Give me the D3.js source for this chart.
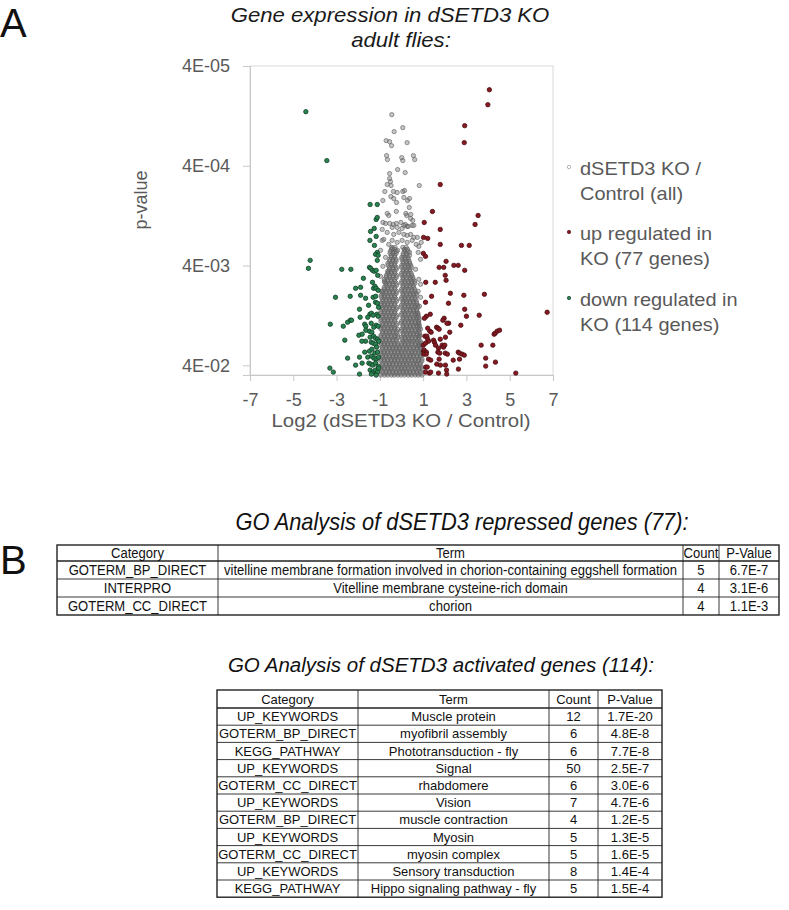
<!DOCTYPE html>
<html><head><meta charset="utf-8">
<script src="https://cdn.jsdelivr.net/npm/d3@7"></script>
<style>
html,body{margin:0;padding:0;background:#fff;}
svg{display:block;font-family:"Liberation Sans",Arial,sans-serif;}
</style></head><body>
<svg id="c" width="789" height="910"></svg>
<script>
// ---------------- DATA ----------------
// log2(KO/Control), -log10(p)
const upGenes = [
[4.06,4.16],[3.99,4.01],[2.92,3.80],[2.90,3.63],[1.79,3.21],[1.43,2.94],[3.54,2.90],[3.40,2.81],[1.05,2.83],[1.79,2.76],
[1.02,2.68],[1.21,2.67],[1.79,2.61],[2.77,2.60],[3.13,2.60],[1.01,2.52],[1.11,2.49],[2.06,2.44],[1.74,2.38],[1.95,2.38],
[2.42,2.40],[2.62,2.40],[2.92,2.35],[2.02,2.30],[2.06,2.25],[1.12,2.23],[1.56,2.23],[2.26,2.12],[1.39,2.09],[2.88,2.10],
[3.83,2.11],[1.11,2.03],[2.17,2.02],[2.92,1.96],[3.00,1.89],[3.59,1.90],[6.73,1.93],[1.33,1.91],[1.15,1.89],[1.06,1.87],
[1.97,1.87],[1.91,1.85],[2.18,1.82],[2.10,1.82],[2.74,1.80],[1.21,1.77],[1.31,1.74],[1.37,1.73],[1.62,1.78],[1.68,1.77],
[1.74,1.76],[2.03,1.68],[2.23,1.73],[1.08,1.69],[1.17,1.69],[1.21,1.66],[1.25,1.64],[1.48,1.65],[1.79,1.66],[4.28,1.71],
[4.33,1.72],[4.42,1.74],[4.53,1.75],[1.01,1.60],[1.11,1.62],[1.52,1.63],[1.57,1.60],[1.88,1.60],[1.94,1.58],[2.00,1.60],
[1.71,1.57],[3.68,1.60],[4.22,1.60],[1.02,1.54],[1.05,1.55],[1.15,1.53],[1.03,1.51],[1.14,1.51],[1.68,1.53],[1.77,1.52],
[2.02,1.52],[2.12,1.51],[2.62,1.53],[2.68,1.52],[2.80,1.51],[2.90,1.50],[1.25,1.46],[1.35,1.45],[1.74,1.46],[2.39,1.45],
[2.68,1.46],[3.89,1.47],[1.63,1.41],[1.80,1.40],[2.03,1.40],[1.12,1.38],[1.19,1.38],[3.89,1.39],[4.34,1.43],[2.63,1.36],
[2.08,1.35],[1.11,1.33],[1.29,1.32],[1.35,1.33],[1.71,1.32],[2.09,1.31],[5.28,1.32]
];
const downGenes = [
[-4.42,3.94],[-3.45,3.45],[-1.45,3.01],[-1.12,3.01],[-1.17,2.86],[-1.12,2.88],[-1.26,2.77],[-1.43,2.74],[-1.17,2.69],[-1.46,2.65],
[-1.12,2.53],[-1.20,2.51],[-1.08,2.50],[-1.12,2.45],[-4.22,2.45],[-4.30,2.37],[-2.76,2.36],[-2.34,2.36],[-1.48,2.38],[-1.42,2.37],
[-1.34,2.35],[-1.26,2.34],[-1.17,2.35],[-1.76,2.27],[-1.34,2.23],[-2.12,2.17],[-1.89,2.18],[-1.29,2.17],[-1.23,2.19],[-1.17,2.17],
[-1.08,2.15],[-3.05,2.08],[-2.37,2.09],[-1.89,2.10],[-1.66,2.07],[-1.31,2.08],[-1.19,2.09],[-1.20,2.03],[-1.12,2.02],[-1.94,1.96],
[-1.46,1.91],[-1.39,1.92],[-1.31,1.90],[-1.91,1.88],[-1.56,1.88],[-1.14,1.91],[-1.08,1.89],[-3.29,1.81],[-2.69,1.79],[-2.49,1.83],
[-2.36,1.85],[-2.31,1.85],[-1.70,1.81],[-1.65,1.79],[-1.40,1.82],[-1.17,1.80],[-1.08,1.79],[-1.48,1.74],[-1.37,1.73],[-1.65,1.75],
[-1.97,1.70],[-1.82,1.71],[-1.66,1.64],[-1.83,1.64],[-2.62,1.65],[-1.45,1.68],[-1.29,1.69],[-1.20,1.67],[-1.11,1.66],[-1.05,1.64],
[-1.40,1.63],[-1.31,1.62],[-1.20,1.61],[-1.70,1.53],[-1.48,1.54],[-1.37,1.56],[-1.23,1.52],[-1.11,1.53],[-1.94,1.48],[-2.49,1.47],
[-1.56,1.48],[-1.39,1.49],[-1.28,1.47],[-1.17,1.46],[-1.06,1.48],[-1.82,1.42],[-2.12,1.40],[-1.51,1.42],[-1.42,1.41],[-1.33,1.40],
[-1.20,1.42],[-1.08,1.39],[-3.31,1.37],[-3.15,1.33],[-1.94,1.31],[-1.45,1.35],[-1.33,1.33],[-1.21,1.35],[-1.11,1.33],[-1.05,1.37],
[-1.39,1.31],[-1.17,1.30],[-1.25,2.60],[-1.10,2.30],[-1.06,1.98],[-1.52,2.00],[-1.15,1.58],[-1.28,1.78]
];
// all genes, sparse upper part of the cloud
const allSparse = [
[-0.45,3.91],[-0.34,3.74],[0.06,3.78],[-0.71,3.65],[-0.55,3.64],[-0.46,3.60],[0.26,3.63],[-0.69,3.50],[-0.65,3.46],[0.01,3.48],
[0.06,3.45],[0.55,3.50],[0.61,3.46],[-0.18,3.36],[0.17,3.33],[-0.55,3.32],[-0.55,3.27],[-0.51,3.24],[-0.66,3.21],[-0.48,3.20],
[0.82,3.20],[-0.77,3.14],[-0.37,3.14],[-0.20,3.13],[0.06,3.14],[0.14,3.15],[-0.49,3.09],[-0.36,3.07],[-0.23,3.03],[-0.86,3.05],
[0.11,3.08],[0.37,3.07],[0.28,3.05],[0.36,2.98],[-0.66,2.92],[-0.59,2.90],[-0.24,2.94],[0.20,2.92],[0.24,2.90],[0.43,2.91],
[0.42,2.87],[0.52,2.85],[-0.86,2.83],[-0.55,2.82],[-0.38,2.81],[-0.24,2.82],[-0.03,2.83],[0.18,2.81],[0.31,2.79],[0.49,2.80],
[-0.20,2.78],[0.03,2.77],[0.26,2.79],[0.57,2.68],[0.68,2.61],[0.80,2.59],[0.77,2.53],[0.88,2.46],[0.65,2.36],[0.80,2.26],
[0.88,2.21],[0.77,2.14],[0.88,2.08],[0.83,1.99],[0.73,1.92],[0.80,1.82],[0.88,1.76],[0.83,1.69],[0.80,1.59],[-0.89,2.76],
[-0.66,2.73],[-0.43,2.78],[-0.82,2.66],[-0.59,2.61],[-0.97,2.55],[-0.74,2.48],[-0.86,2.39],[-0.59,2.34],[-0.97,2.29],[-0.77,2.23],
[-0.92,2.14],[-0.74,2.82],[0.11,2.80],[0.57,2.80],[-0.36,2.71],[-0.12,2.73],[0.11,2.71],[0.26,2.70],[0.42,2.71],[0.73,2.68],
[0.91,2.63],[-0.89,2.65],[-0.43,2.65],[-0.20,2.63],[0.03,2.65],[0.26,2.63],[0.49,2.65],[-0.42,2.57],[-0.18,2.55],[0.14,2.56],
[0.37,2.53]
];
// all genes, dense lower part of the cloud: [-log10(p), [log2 ratios]]
const allDense = [
[1.30,[-0.95,-0.79,-0.64,-0.47,-0.33,-0.17,-0.02,0.14,0.31,0.46,0.63,0.78,0.94]],
[1.32,[-0.87,-0.72,-0.57,-0.40,-0.24,-0.09,0.08,0.23,0.39,0.56,0.72,0.88]],
[1.34,[-0.88,-0.71,-0.56,-0.41,-0.25,-0.09,0.07,0.23,0.38,0.55,0.71,0.86]],
[1.36,[-0.94,-0.79,-0.63,-0.48,-0.32,-0.15,0.00,0.15,0.31,0.48,0.63,0.80,0.95]],
[1.38,[-0.96,-0.80,-0.63,-0.49,-0.32,-0.16,0.01,0.16,0.30,0.47,0.64,0.79,0.93]],
[1.40,[-0.88,-0.71,-0.56,-0.41,-0.23,-0.08,0.07,0.24,0.40,0.55,0.71,0.86]],
[1.42,[-0.87,-0.72,-0.55,-0.40,-0.24,-0.08,0.08,0.24,0.39,0.56,0.70,0.87]],
[1.44,[-0.96,-0.79,-0.64,-0.47,-0.32,-0.16,0.01,0.16,0.31,0.48,0.64,0.78,0.94]],
[1.46,[-0.95,-0.80,-0.65,-0.48,-0.31,-0.17,0.00,0.15,0.32,0.47,0.62,0.79,0.95]],
[1.48,[-0.87,-0.72,-0.55,-0.40,-0.25,-0.08,0.08,0.23,0.39,0.55,0.72,0.87]],
[1.50,[-0.88,-0.73,-0.56,-0.39,-0.25,-0.09,0.06,0.23,0.40,0.54,0.71,0.88]],
[1.52,[-0.95,-0.80,-0.64,-0.48,-0.31,-0.16,0.00,0.16,0.32,0.47,0.63,0.79,0.93]],
[1.54,[-0.96,-0.81,-0.64,-0.47,-0.33,-0.16,-0.01,0.16,0.31,0.48,0.63,0.80,0.94]],
[1.56,[-0.88,-0.71,-0.56,-0.39,-0.24,-0.09,0.07,0.23,0.40,0.56,0.71,0.88]],
[1.58,[-0.88,-0.72,-0.57,-0.40,-0.24,-0.10,0.08,0.24,0.38,0.55,0.72,0.87]],
[1.60,[-0.95,-0.80,-0.63,-0.47,-0.32,-0.16,0.00,0.16,0.31,0.48,0.63,0.79,0.95]],
[1.62,[-0.95,-0.79,-0.64,-0.48,-0.32,-0.17,0.01,0.15,0.32,0.47,0.64,0.80,0.92]],
[1.64,[-0.87,-0.72,-0.56,-0.40,-0.23,0.08,0.24,0.39,0.56,0.71,0.87]],
[1.66,[-0.88,-0.72,-0.56,-0.40,-0.24,0.02,0.17,0.33,0.48,0.64,0.80]],
[1.68,[-0.96,-0.79,-0.64,-0.47,-0.32,-0.17,0.01,0.16,0.32,0.48,0.63,0.79]],
[1.70,[-0.95,-0.80,-0.64,-0.48,-0.31,-0.18,0.09,0.25,0.40,0.56,0.72,0.85]],
[1.72,[-0.88,-0.71,-0.56,-0.40,-0.24,0.08,0.24,0.40,0.55,0.71,0.84]],
[1.74,[-0.87,-0.72,-0.55,-0.39,-0.23,0.00,0.16,0.32,0.49,0.64,0.79]],
[1.76,[-0.95,-0.80,-0.63,-0.48,-0.31,-0.18,0.01,0.16,0.31,0.47,0.64,0.80]],
[1.78,[-0.96,-0.79,-0.63,-0.47,-0.32,0.08,0.24,0.41,0.56,0.72,0.83]],
[1.80,[-0.87,-0.72,-0.55,-0.39,-0.24,0.07,0.23,0.40,0.56,0.71,0.82]],
[1.82,[-0.88,-0.71,-0.56,-0.40,-0.22,-0.01,0.15,0.32,0.48,0.63,0.78]],
[1.84,[-0.95,-0.79,-0.64,-0.48,-0.31,0.00,0.16,0.32,0.47,0.63,0.79]],
[1.86,[-0.95,-0.80,-0.64,-0.47,-0.31,0.07,0.24,0.40,0.55,0.71,0.82]],
[1.88,[-0.88,-0.71,-0.56,-0.40,-0.23,0.08,0.24,0.39,0.55,0.70,0.80]],
[1.90,[-0.87,-0.72,-0.55,-0.39,-0.23,0.00,0.16,0.31,0.48,0.64,0.77]],
[1.92,[-0.95,-0.80,-0.63,-0.47,-0.31,0.01,0.15,0.32,0.48,0.63,0.76]],
[1.94,[-0.95,-0.79,-0.63,-0.48,-0.31,0.08,0.23,0.40,0.56,0.71]],
[1.96,[-0.87,-0.72,-0.56,-0.39,-0.24,0.07,0.24,0.40,0.55,0.70]],
[1.98,[-0.88,-0.71,-0.56,-0.40,-0.22,-0.02,0.15,0.32,0.47,0.63,0.76]],
[2.00,[-0.94,-0.79,-0.64,-0.48,-0.31,0.00,0.16,0.31,0.47,0.63,0.74]],
[2.02,[-0.94,-0.80,-0.64,-0.47,-0.31,0.07,0.24,0.39,0.55,0.70]],
[2.04,[-0.88,-0.71,-0.55,-0.40,-0.23,0.08,0.23,0.40,0.56,0.69]],
[2.06,[-0.87,-0.72,-0.55,-0.39,-0.24,0.00,0.16,0.31,0.48,0.64]],
[2.08,[-0.93,-0.80,-0.64,-0.47,-0.31,0.01,0.15,0.32,0.48,0.63]],
[2.10,[-0.93,-0.79,-0.63,-0.48,-0.31,0.08,0.23,0.40,0.55,0.71]],
[2.12,[-0.87,-0.72,-0.56,-0.39,-0.24,0.07,0.24,0.39,0.55,0.68]],
[2.14,[-0.86,-0.71,-0.56,-0.40,-0.23,0.01,0.15,0.32,0.47,0.62]],
[2.16,[-0.80,-0.63,-0.48,-0.31,0.00,0.16,0.31,0.48,0.61]],
[2.18,[-0.80,-0.64,-0.47,-0.31,0.07,0.23,0.39,0.55]],
[2.20,[-0.72,-0.56,-0.39,-0.23,0.08,0.24,0.39,0.54]],
[2.22,[-0.72,-0.55,-0.40,-0.24,0.00,0.16,0.31,0.47,0.62]],
[2.24,[-0.79,-0.64,-0.47,-0.31,0.01,0.15,0.32,0.47,0.60]],
[2.26,[-0.79,-0.63,-0.48,-0.31,0.08,0.24,0.40,0.54]],
[2.28,[-0.71,-0.55,-0.40,-0.24,0.07,0.23,0.40,0.52]],
[2.30,[-0.70,-0.56,-0.39,-0.23,0.01,0.15,0.32,0.47]],
[2.32,[-0.64,-0.48,-0.31,0.00,0.16,0.31,0.45]],
[2.34,[-0.64,-0.47,-0.32,0.07,0.23,0.39]],
[2.36,[-0.56,-0.39,-0.24,0.08,0.24,0.38]],
[2.38,[-0.55,-0.40,-0.24,0.00,0.16,0.31,0.45]],
[2.40,[-0.62,-0.47,-0.32,0.01,0.16,0.31,0.43]],
[2.42,[-0.63,-0.48,-0.31,0.08,0.24,0.38]],
[2.44,[-0.55,-0.39,-0.25,0.07,0.23,0.36]],
[2.46,[-0.55,-0.40,-0.25,0.02,0.16,0.31]],
[2.48,[-0.48,-0.32,0.01,0.16,0.30]],
[2.50,[-0.47,-0.32,0.08,0.23,0.37]],
[2.52,[-0.53,-0.39,-0.25,0.08,0.23]],
[2.54,[-0.52,-0.38,-0.24,0.15,0.30]],
[2.56,[-0.46,-0.31,0.14,0.28]],
[2.58,[-0.45,-0.30,0.06,0.22]]
];
const xTicks = [-7,-5,-3,-1,1,3,5,7];
const yTicks = [4e-5,4e-4,4e-3,4e-2];
const yTickLabels = ["4E-05","4E-04","4E-03","4E-02"];
const legendLines = [["dSETD3 KO /","Control (all)"],["up regulated in","KO (77 genes)"],["down regulated in","KO (114 genes)"]];

const repHeader = ["Category","Term","Count","P-Value"];
const repCategory = ["GOTERM_BP_DIRECT","INTERPRO","GOTERM_CC_DIRECT"];
const repTerm = ["vitelline membrane formation involved in chorion-containing eggshell formation","Vitelline membrane cysteine-rich domain","chorion"];
const repCount = [5,4,4];
const repPValue = ["6.7E-7","3.1E-6","1.1E-3"];

const actCategory = ["UP_KEYWORDS","GOTERM_BP_DIRECT","KEGG_PATHWAY","UP_KEYWORDS","GOTERM_CC_DIRECT","UP_KEYWORDS","GOTERM_BP_DIRECT","UP_KEYWORDS","GOTERM_CC_DIRECT","UP_KEYWORDS","KEGG_PATHWAY"];
const actTerm = ["Muscle protein","myofibril assembly","Phototransduction - fly","Signal","rhabdomere","Vision","muscle contraction","Myosin","myosin complex","Sensory transduction","Hippo signaling pathway - fly"];
const actCount = [12,6,6,50,6,7,4,5,5,8,5];
const actPValue = ["1.7E-20","4.8E-8","7.7E-8","2.5E-7","3.0E-6","4.7E-6","1.2E-5","1.3E-5","1.6E-5","1.4E-4","1.5E-4"];

// ---------------- DRAW ----------------
const svg = d3.select("#c");
const axisGray = "#c8c8c8", textGray = "#595959";
const x = d3.scaleLinear().domain([-7,7]).range([250,553]);
const y = d3.scaleLog().domain([4e-5,0.05]).range([66,375]);
const py = v => y(Math.pow(10,-v));

svg.append("text").attr("x",0).attr("y",37).attr("font-size",40).attr("fill","#111").text("A");
svg.append("text").attr("x",0).attr("y",574).attr("font-size",40).attr("fill","#111").text("B");

[["Gene expression in dSETD3 KO",390,22],["adult flies:",401,47]].forEach(t=>{
  svg.append("text").attr("transform",`translate(${t[1]},${t[2]}) scale(1.08,1)`)
    .attr("font-style","italic").attr("font-size",20.5).attr("fill","#1a1a1a").attr("text-anchor","middle").text(t[0]);
});

// frame
svg.append("rect").attr("x",250).attr("y",66).attr("width",303).attr("height",309)
  .attr("fill","none").attr("stroke","#d9d9d9").attr("stroke-width",1);

// axes
const yAxis = d3.axisLeft(y).tickValues(yTicks).tickFormat((d,i)=>yTickLabels[i]).tickSize(7).tickPadding(13);
const gy = svg.append("g").attr("transform","translate(250,0)").call(yAxis);
const xAxis = d3.axisBottom(x).tickValues(xTicks).tickFormat(d=>String(d)).tickSize(6).tickPadding(12);
const gx = svg.append("g").attr("transform","translate(0,375)").call(xAxis);
[gx,gy].forEach(g=>{
  g.select(".domain").attr("stroke",axisGray);
  g.selectAll(".tick line").attr("stroke",axisGray);
  g.selectAll(".tick text").attr("fill",textGray).attr("font-size",18).attr("font-family","Liberation Sans, Arial, sans-serif");
});
svg.append("text").attr("transform","translate(401,427) scale(1.1,1)").attr("text-anchor","middle").attr("font-size",18.5).attr("fill",textGray)
  .text("Log2 (dSETD3 KO / Control)");
svg.append("text").attr("transform","translate(147,200) rotate(-90)").attr("text-anchor","middle").attr("font-size",18).attr("fill",textGray)
  .text("p-value");

// points
const plot = svg.append("g");
const grayPts = allSparse.concat(...allDense.map(r=>r[1].map(v=>[v,r[0]])));
plot.selectAll("circle.all").data(grayPts).join("circle").attr("class","all")
  .attr("cx",d=>x(d[0])).attr("cy",d=>py(d[1])).attr("r",2.15)
  .attr("fill","#666").attr("fill-opacity",0.38)
  .attr("stroke","#666").attr("stroke-width",0.9).attr("stroke-opacity",0.75);
plot.selectAll("circle.up").data(upGenes).join("circle").attr("class","up")
  .attr("cx",d=>x(d[0])).attr("cy",d=>py(d[1])).attr("r",2.2)
  .attr("fill","#861a22").attr("stroke","#4a0d12").attr("stroke-width",0.8);
plot.selectAll("circle.down").data(downGenes).join("circle").attr("class","down")
  .attr("cx",d=>x(d[0])).attr("cy",d=>py(d[1])).attr("r",2.2)
  .attr("fill","#2a8450").attr("stroke","#123d27").attr("stroke-width",0.8);

// legend
const legY = [175,240,306];
const legStyle = [{fill:"none",stroke:"#9a9a9a"},{fill:"#861a22",stroke:"#4a0d12"},{fill:"#2a8450",stroke:"#123d27"}];
legendLines.forEach((lines,i)=>{
  svg.append("circle").attr("cx",569).attr("cy",legY[i]-8).attr("r",1.7)
    .attr("fill",legStyle[i].fill).attr("stroke",legStyle[i].stroke).attr("stroke-width",0.7);
  lines.forEach((l,j)=>svg.append("text").attr("transform",`translate(580,${legY[i]+j*24.5}) scale(1.11,1)`)
    .attr("font-size",18).attr("fill",textGray).text(l));
});

// tables
function drawTable(cols, top, headH, rowH, rows, fs, sx){
  const g = svg.append("g");
  const nRows = rows.length;
  const bottom = top + headH + rowH*(nRows-1);
  const left = cols[0], right = cols[cols.length-1];
  for(let r=1;r<nRows;r++){
    const yy = top + headH + rowH*(r-1);
    g.append("line").attr("x1",left).attr("x2",right).attr("y1",yy).attr("y2",yy)
      .attr("stroke","#222").attr("stroke-width", r===1?1.6:0.9);
  }
  for(let c=1;c<cols.length-1;c++){
    g.append("line").attr("x1",cols[c]).attr("x2",cols[c]).attr("y1",top).attr("y2",bottom)
      .attr("stroke","#222").attr("stroke-width",0.9);
  }
  g.append("rect").attr("x",left).attr("y",top).attr("width",right-left).attr("height",bottom-top)
    .attr("fill","none").attr("stroke","#222").attr("stroke-width",1.4);
  rows.forEach((row,r)=>{
    const yTop = r===0? top : top+headH+rowH*(r-1);
    const h = r===0? headH : rowH;
    row.forEach((cell,c)=>{
      const cx = (cols[c]+cols[c+1])/2;
      g.append("text").attr("transform",`translate(${cx},${yTop+h/2+fs*0.36}) scale(${sx},1)`)
        .attr("text-anchor","middle").attr("font-size",fs).attr("fill","#111").text(cell);
    });
  });
}
svg.append("text").attr("transform","translate(462,530) scale(0.95,1)").attr("text-anchor","middle").attr("font-style","italic")
  .attr("font-size",23).attr("fill","#111").text("GO Analysis of dSETD3 repressed genes (77):");
const repRows = [repHeader].concat(repCategory.map((c,i)=>[c,repTerm[i],String(repCount[i]),repPValue[i]]));
drawTable([57,218,683,719,779],545,16,18,repRows,15,0.87);

svg.append("text").attr("x",441).attr("y",672).attr("text-anchor","middle").attr("font-style","italic")
  .attr("font-size",20.5).attr("fill","#111").text("GO Analysis of dSETD3 activated genes (114):");
const actRows = [repHeader].concat(actCategory.map((c,i)=>[c,actTerm[i],String(actCount[i]),actPValue[i]]));
drawTable([217,358,549,598,662],690,18,17.2,actRows,13,1);
</script>
</body></html>
